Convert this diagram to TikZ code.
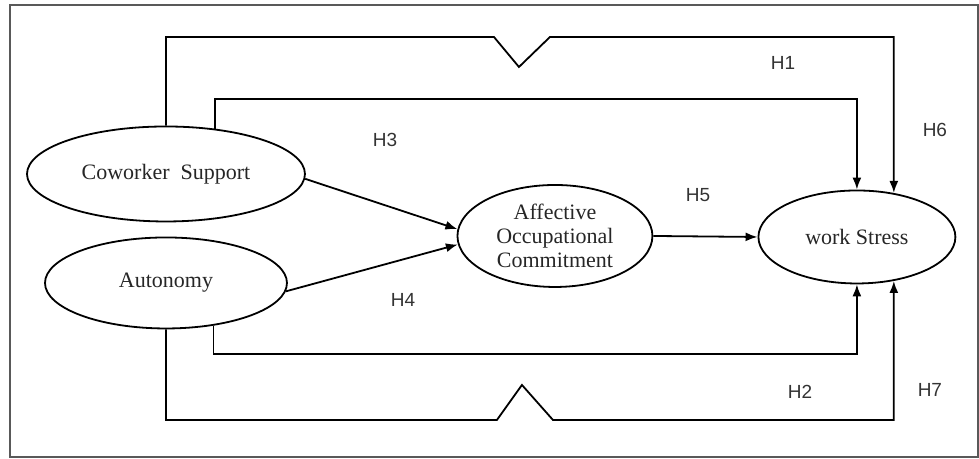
\documentclass[tikz,border=0pt]{standalone}
\usepackage{fontspec}
\setmainfont{Liberation Serif}
\newfontfamily\hypfont{Liberation Sans}
\usetikzlibrary{arrows.meta,shapes.geometric}

\begin{document}
\begin{tikzpicture}[x=0.5pt,y=-0.5pt,>={Latex[length=6pt,width=4.5pt]},line width=0.9pt,
  var/.style={draw,ellipse,inner sep=0pt,align=center,text=black!85,font=\fontsize{11}{12}\selectfont},
  hyp/.style={text=black!80,font=\hypfont\fontsize{9.5}{11}\selectfont}]
  \draw[line width=1.1pt,black!65] (10,5) rectangle (978,457);
  \node[var,minimum width=139pt,minimum height=47.5pt] (cs) at (166,174) {Coworker~~Support};
  \node[var,minimum width=121pt,minimum height=45.5pt] (aut) at (166,283) {Autonomy};
  \node[var,minimum width=97.5pt,minimum height=51pt] (aoc) at (555,236) {Affective\\Occupational\\Commitment};
  \node[var,minimum width=98.5pt,minimum height=46.5pt] (ws) at (857,237) {work Stress};
  % direct paths
  \draw[->] (cs.-2) -- (aoc.176);
  \draw[->] (aut.-4) -- (aoc.185);
  \draw[->] (aoc.east) -- (ws.west);
  % paths round the mediator
  \draw[->] (cs.43) -- (cs.43 |- 0,99) -| (ws.north);
  \draw[->] (cs.north) -- (cs.north |- 0,37) -- (494,37) -- (519,67) -- (550,37) -| (ws.50);
  \draw[->] (aut.-42) -- (aut.-42 |- 0,354) -| (ws.south);
  \draw[->] (aut.south) -- (aut.south |- 0,420) -- (497,420) -- (522,385) -- (553,420) -| (ws.-50);
  % hypotheses
  \node[hyp] (h1) at (783,63) {H1};
  \node[hyp] (h2) at (800,392) {H2};
  \node[hyp] (h3) at (385,140) {H3};
  \node[hyp] (h4) at (403,300) {H4};
  \node[hyp] (h5) at (698,195) {H5};
  \node[hyp] (h6) at (935,130) {H6};
  \node[hyp] (h7) at (930,390) {H7};
  \useasboundingbox (0,0) rectangle (979,459);
\end{tikzpicture}
\end{document}
